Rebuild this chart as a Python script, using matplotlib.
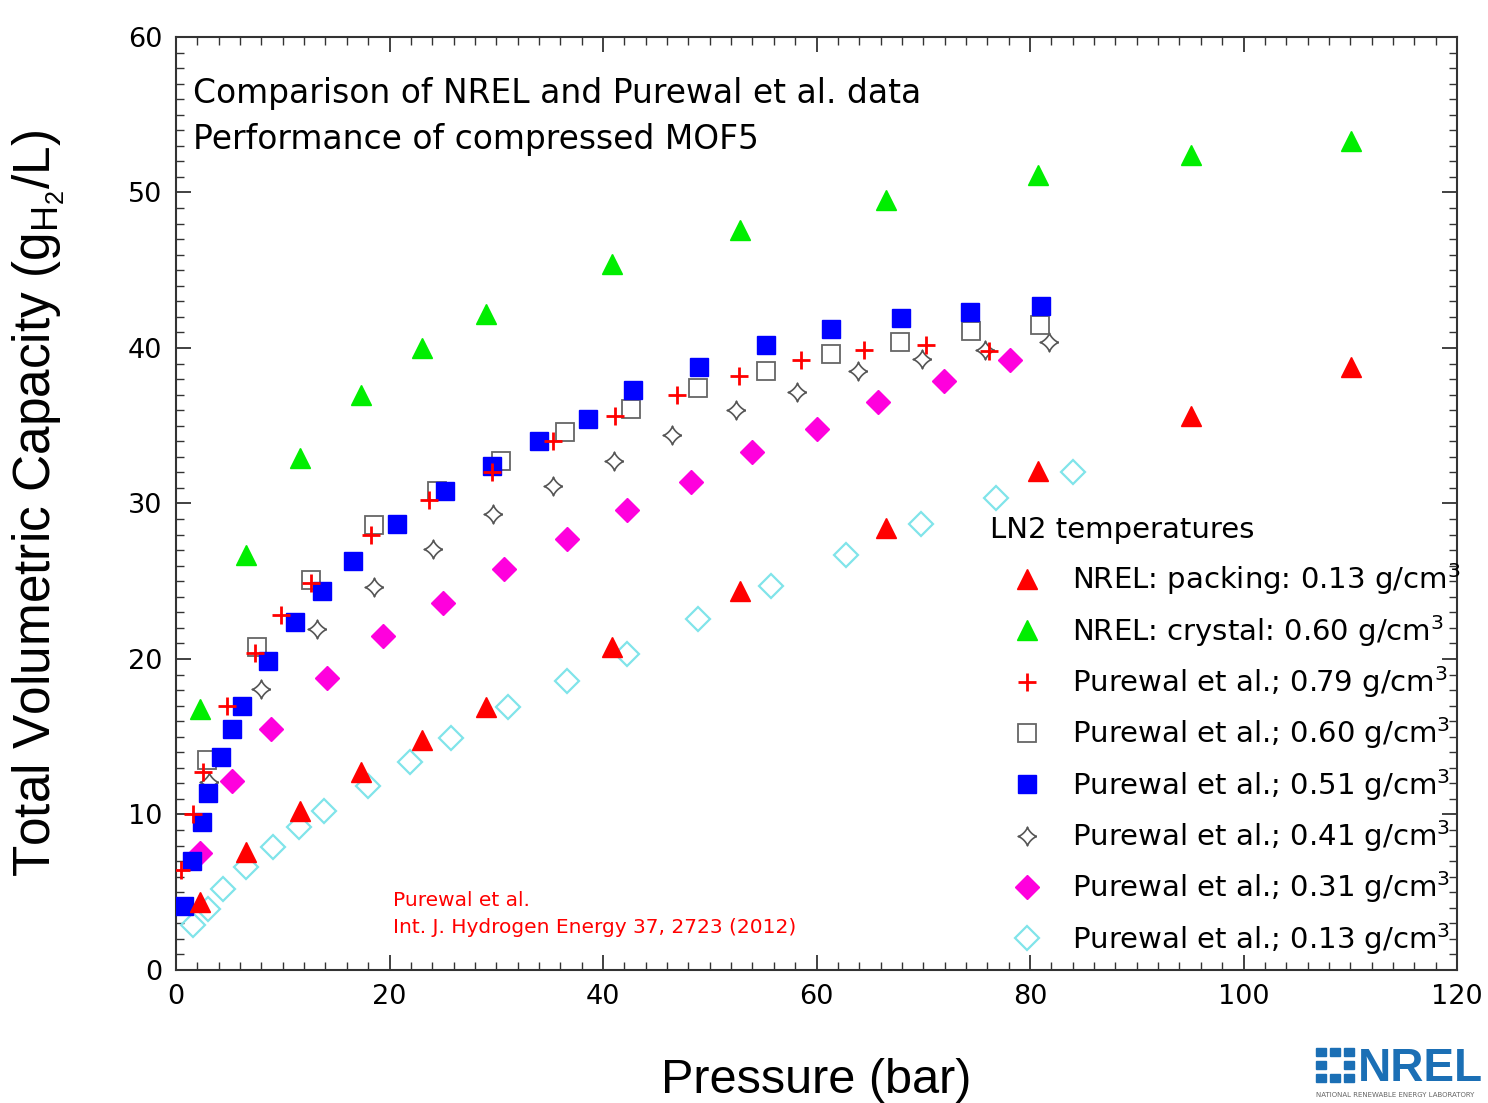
import numpy as np
import matplotlib
matplotlib.use("Agg")
import matplotlib.pyplot as plt
from matplotlib.path import Path
from matplotlib.patches import Rectangle
from matplotlib.ticker import MultipleLocator

# NREL packing 0.13 g/cm3 and NREL crystal 0.60 g/cm3 (same pressures)
p_nrel = [2.25, 6.6, 11.6, 17.3, 23.0, 29.0, 40.8, 52.8, 66.5, 80.7, 95.1, 110.1]
cap_nrel_pack = [4.4, 7.6, 10.2, 12.7, 14.8, 16.9, 20.8, 24.4, 28.4, 32.1, 35.6, 38.8]
cap_nrel_cryst = [16.8, 26.7, 32.9, 37.0, 40.0, 42.2, 45.4, 47.6, 49.5, 51.1, 52.4, 53.3]

# Purewal et al. 0.79 g/cm3
p_079 = [0.5, 1.6, 2.5, 4.8, 7.4, 9.8, 12.6, 18.3, 23.7, 29.6, 35.3, 41.1, 46.9, 52.7, 58.5, 64.4, 70.3, 76.2]
cap_079 = [6.4, 10.0, 12.7, 17.0, 20.4, 22.8, 24.9, 28.0, 30.2, 32.0, 34.0, 35.6, 37.0, 38.2, 39.2, 39.9, 40.2, 39.8]

# Purewal et al. 0.60 g/cm3
p_060 = [2.9, 7.6, 12.6, 18.5, 24.4, 30.4, 36.4, 42.6, 48.9, 55.3, 61.4, 67.8, 74.5, 80.9]
cap_060 = [13.5, 20.8, 25.1, 28.6, 30.8, 32.7, 34.6, 36.1, 37.4, 38.5, 39.6, 40.4, 41.1, 41.5]

# Purewal et al. 0.51 g/cm3
p_051 = [0.7, 1.5, 2.4, 3.0, 4.2, 5.2, 6.2, 8.6, 11.1, 13.7, 16.55, 20.7, 25.2, 29.6, 34.0,
         38.6, 42.8, 49.0, 55.3, 61.4, 67.9, 74.4, 81.0]
cap_051 = [4.1, 7.0, 9.5, 11.4, 13.7, 15.5, 17.0, 19.9, 22.4, 24.4, 26.3, 28.7, 30.8, 32.4, 34.0,
           35.4, 37.3, 38.8, 40.2, 41.2, 41.9, 42.3, 42.7]

# Purewal et al. 0.41 g/cm3
p_041 = [3.1, 8.0, 13.2, 18.5, 24.1, 29.7, 35.3, 41.0, 46.5, 52.5, 58.2, 63.9, 69.9, 75.8, 81.8]
cap_041 = [12.1, 18.05, 21.9, 24.65, 27.05, 29.3, 31.1, 32.75, 34.4, 36.0, 37.2, 38.5, 39.3, 39.9, 40.4]

# Purewal et al. 0.31 g/cm3
p_031 = [2.25, 5.2, 8.9, 14.1, 19.4, 25.0, 30.75, 36.6, 42.2, 48.2, 54.0, 60.0, 65.8, 71.9, 78.1]
cap_031 = [7.5, 12.15, 15.5, 18.8, 21.5, 23.6, 25.8, 27.7, 29.6, 31.4, 33.3, 34.8, 36.5, 37.9, 39.2]

# Purewal et al. 0.13 g/cm3
p_013 = [1.6, 3.0, 4.4, 6.6, 9.1, 11.5, 13.9, 18.0, 21.9, 25.8, 31.1, 36.6, 42.2, 48.9, 55.7,
         62.8, 69.8, 76.8, 84.0]
cap_013 = [2.9, 3.9, 5.2, 6.6, 7.9, 9.2, 10.2, 11.8, 13.4, 14.9, 16.9, 18.6, 20.3, 22.6, 24.7,
           26.7, 28.7, 30.35, 32.0]

labels = ["NREL: packing: 0.13 g/cm$^3$",
          "NREL: crystal: 0.60 g/cm$^3$",
          "Purewal et al.; 0.79 g/cm$^3$",
          "Purewal et al.; 0.60 g/cm$^3$",
          "Purewal et al.; 0.51 g/cm$^3$",
          "Purewal et al.; 0.41 g/cm$^3$",
          "Purewal et al.; 0.31 g/cm$^3$",
          "Purewal et al.; 0.13 g/cm$^3$"]

# four pointed star with concave sides
t = np.linspace(0, 2 * np.pi, 65)
star = Path(np.column_stack([np.sign(np.cos(t)) * np.abs(np.cos(t)) ** 2.7,
                             np.sign(np.sin(t)) * np.abs(np.sin(t)) ** 2.7]))

plt.rcParams['font.family'] = ['DejaVu Sans']
fig = plt.figure(figsize=(14.88, 11.03), dpi=100)
ax = fig.add_axes([0.1183, 0.1206, 0.8609, 0.8459])

h_013, = ax.plot(p_013, cap_013, ls='none', marker='D', ms=12, mfc='none', mec='#80e4ea', mew=1.6, zorder=2)
h_031, = ax.plot(p_031, cap_031, ls='none', marker='D', ms=12, mfc='#ff00dd', mec='#ff00dd', zorder=3)
h_041, = ax.plot(p_041, cap_041, ls='none', marker=star, ms=13.5, mfc='none', mec='#555555', mew=1.2, zorder=4)
h_060, = ax.plot(p_060, cap_060, ls='none', marker='s', ms=12.5, mfc='none', mec='#666666', mew=1.3, zorder=5)
h_051, = ax.plot(p_051, cap_051, ls='none', marker='s', ms=13, mfc='#0000ff', mec='#0000ff', zorder=6)
h_079, = ax.plot(p_079, cap_079, ls='none', marker='+', ms=13, mew=2, color='#ff0000', zorder=7)
h_pack, = ax.plot(p_nrel, cap_nrel_pack, ls='none', marker='^', ms=15, color='#ff0000', zorder=8)
h_cryst, = ax.plot(p_nrel, cap_nrel_cryst, ls='none', marker='^', ms=15, color='#00ee00', zorder=8)

ax.set_xlim(0, 120)
ax.set_ylim(0, 60)
ax.xaxis.set_major_locator(MultipleLocator(20))
ax.xaxis.set_minor_locator(MultipleLocator(2))
ax.yaxis.set_major_locator(MultipleLocator(10))
ax.yaxis.set_minor_locator(MultipleLocator(1))
ax.tick_params(which='both', direction='in', top=True, right=True, color='#333333')
ax.tick_params(which='major', length=11, width=1.3, labelsize=19.5, pad=10)
ax.tick_params(which='minor', length=6, width=1.0)
for s in ax.spines.values():
    s.set_color('#333333')
    s.set_linewidth(1.5)

ax.set_xlabel("Pressure (bar)", fontsize=35, family=['Liberation Sans', 'DejaVu Sans'], labelpad=35)
ax.set_ylabel("Total Volumetric Capacity (g$_{\\mathregular{H_2}}$/L)", fontsize=37,
              family=['Liberation Sans', 'DejaVu Sans'], labelpad=44)

ax.text(0.013, 0.9396, "Comparison of NREL and Purewal et al. data", transform=ax.transAxes,
        fontsize=23.7, va='center', ha='left')
ax.text(0.013, 0.8896, "Performance of compressed MOF5", transform=ax.transAxes,
        fontsize=23.7, va='center', ha='left')

ax.text(0.169, 0.074, "Purewal et al.", transform=ax.transAxes, fontsize=14.5, color='#ff0000', va='center')
ax.text(0.169, 0.046, "Int. J. Hydrogen Energy 37, 2723 (2012)", transform=ax.transAxes,
        fontsize=14.5, color='#ff0000', va='center')

ax.text(0.6354, 0.4716, "LN2 temperatures", transform=ax.transAxes, fontsize=21, va='center', ha='left')
leg = ax.legend([h_pack, h_cryst, h_079, h_060, h_051, h_041, h_031, h_013], labels,
                loc='upper left', bbox_to_anchor=(0.6415, 0.4443),
                frameon=False, fontsize=21, handlelength=1.6, handletextpad=0.74,
                labelspacing=0.53, borderpad=0.2, borderaxespad=0)

# NREL logo (approximation)
fig.text(1358 / 1488, 1 - 1069 / 1103, "NREL", fontsize=33, fontweight='bold', color='#1b6fb5',
         va='center', ha='left', family=['Liberation Sans', 'DejaVu Sans'])
fig.text(1316 / 1488, 1 - 1095 / 1103, "NATIONAL RENEWABLE ENERGY LABORATORY", fontsize=5,
         color='#666666', va='center', ha='left')
for dx, dy in [(0, 0), (14, 0), (28, 0), (0, 13), (28, 13), (0, 26), (14, 26), (28, 26)]:
    fig.patches.append(Rectangle(((1316 + dx) / 1488, 1 - (1082 - dy) / 1103), 10 / 1488, 8 / 1103,
                                 transform=fig.transFigure, color='#1b6fb5'))

fig.savefig("out.png", dpi=100)
